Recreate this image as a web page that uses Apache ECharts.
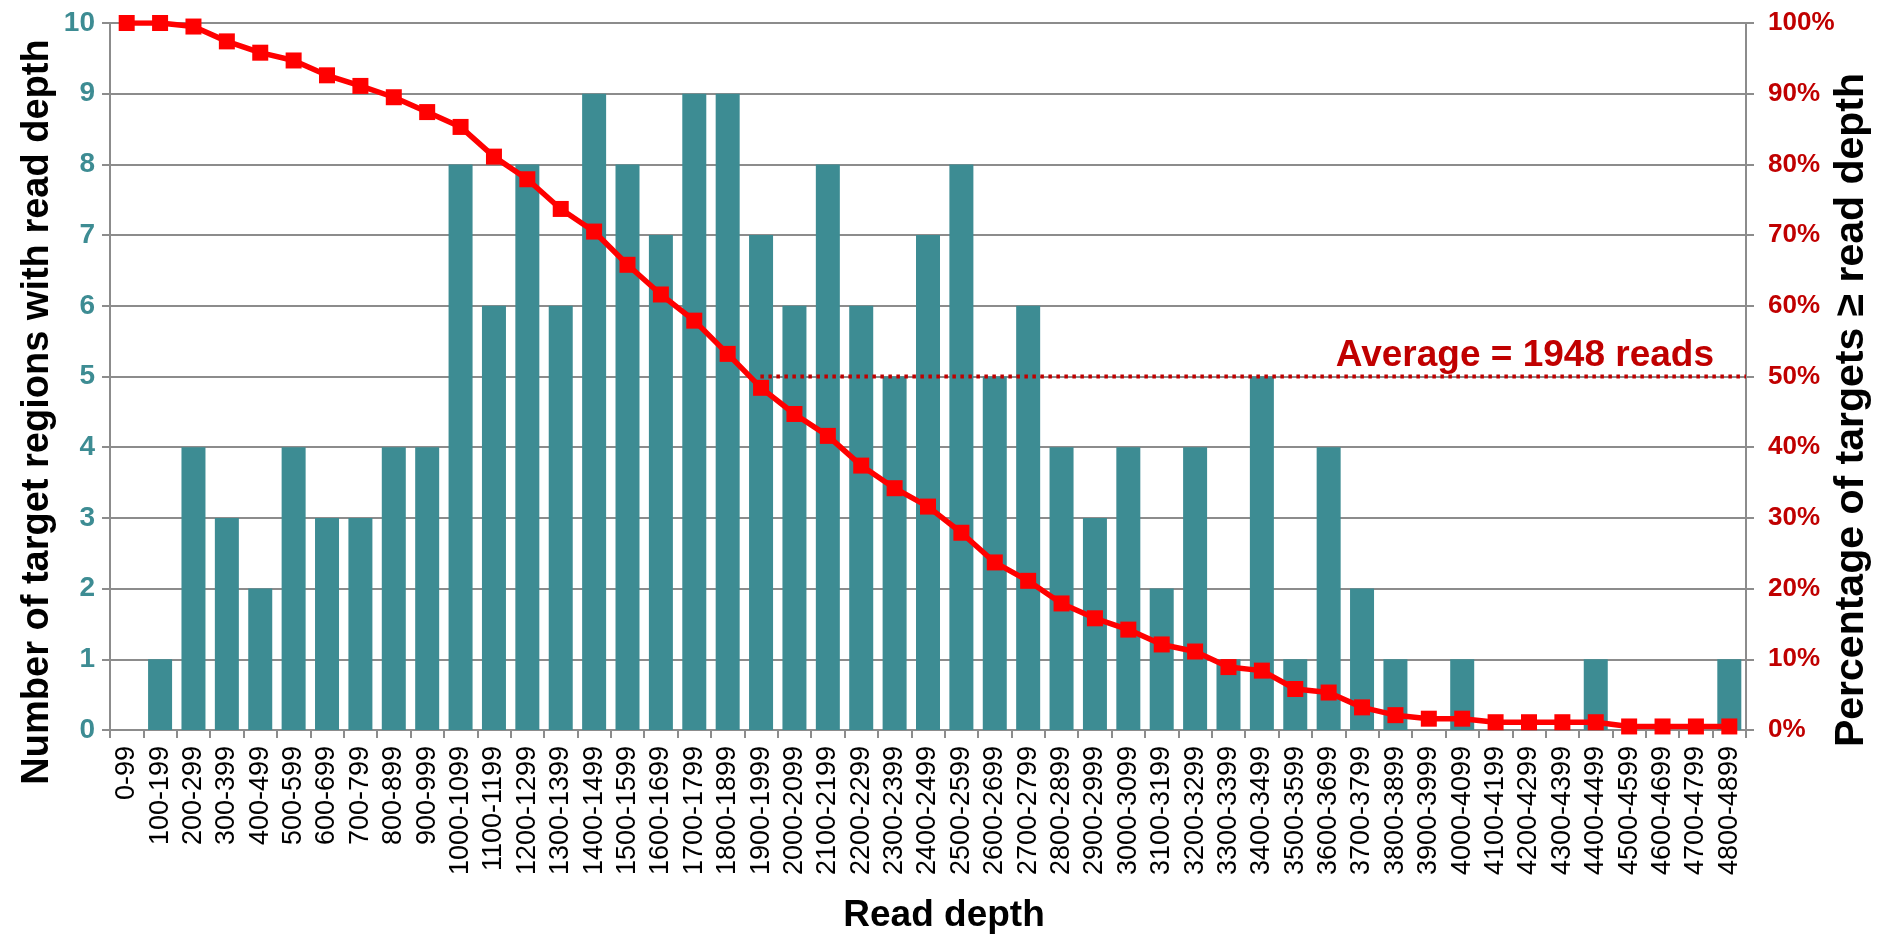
<!DOCTYPE html>
<html>
<head>
<meta charset="utf-8">
<script src="https://cdn.jsdelivr.net/npm/echarts@6/dist/echarts.min.js"></script>
<style>
html,body{margin:0;padding:0;background:#fff;}
#chart{width:1890px;height:937px;}
</style>
</head>
<body>
<div id="chart"></div>
<script>
const categories = ['0-99','100-199','200-299','300-399','400-499','500-599','600-699','700-799','800-899','900-999',
  '1000-1099','1100-1199','1200-1299','1300-1399','1400-1499','1500-1599','1600-1699','1700-1799','1800-1899','1900-1999',
  '2000-2099','2100-2199','2200-2299','2300-2399','2400-2499','2500-2599','2600-2699','2700-2799','2800-2899','2900-2999',
  '3000-3099','3100-3199','3200-3299','3300-3399','3400-3499','3500-3599','3600-3699','3700-3799','3800-3899','3900-3999',
  '4000-4099','4100-4199','4200-4299','4300-4399','4400-4499','4500-4599','4600-4699','4700-4799','4800-4899'];
const regionCounts = [0,1,4,3,2,4,3,3,4,4,
  8,6,8,6,9,8,7,9,9,7,
  6,8,6,5,7,8,5,6,4,3,
  4,2,4,1,5,1,4,2,1,0,
  1,0,0,0,1,0,0,0,1];
const pctAtLeast = [100,100,99.5,97.4,95.8,94.7,92.6,91.1,89.5,87.4,
  85.3,81.1,77.9,73.7,70.5,65.8,61.6,57.9,53.2,48.4,
  44.7,41.6,37.4,34.2,31.6,27.9,23.7,21.1,17.9,15.8,
  14.2,12.1,11.1,8.9,8.4,5.8,5.3,3.2,2.1,1.6,
  1.6,1.1,1.1,1.1,1.1,0.5,0.5,0.5,0.5];
const leftTicks = [0,10,1];     // min, max, interval
const rightTicks = [0,100,10];
const averageReads = 1948;
const averagePct = 50;
const depthRange = [0,4900];
const averageLabel = 'Average = 1948 reads';
const xTitle = 'Read depth';
const leftTitle = 'Number of target regions with read depth';
const rightTitle = 'Percentage of targets \u2265 read depth';

const gridColor = '#8c8c8c';
const FONT = 'Liberation Sans, Arial, sans-serif';
const chart = echarts.init(document.getElementById('chart'));
chart.setOption({
  animation: false,
  textStyle: {fontFamily: FONT},
  grid: {left: 110, right: 144, top: 23, bottom: 207, containLabel: false, outerBoundsMode: 'none'},
  graphic: [
    {type: 'text', x: 944, y: 916, style: {text: xTitle, font: 'bold 37px ' + FONT, fill: '#000', align: 'center', verticalAlign: 'middle'}},
    {type: 'text', x: 38, y: 412, rotation: Math.PI / 2, style: {text: leftTitle, font: 'bold 38px ' + FONT, fill: '#000', align: 'center', verticalAlign: 'middle'}},
    {type: 'text', x: 1852, y: 410, rotation: Math.PI / 2, style: {text: rightTitle, font: 'bold 41px ' + FONT, fill: '#000', align: 'center', verticalAlign: 'middle'}}
  ],
  xAxis: [{
    type: 'category',
    data: categories,
    boundaryGap: true,
    axisLine: {lineStyle: {color: gridColor, width: 2}},
    axisTick: {show: true, alignWithLabel: false, length: 8, interval: 0, lineStyle: {color: gridColor, width: 2}},
    axisLabel: {interval: 0, rotate: 90, fontSize: 27, color: '#000', margin: 16}
  }, {
    type: 'value',
    min: depthRange[0], max: depthRange[1],
    show: false
  }],
  yAxis: [{
    type: 'value',
    min: leftTicks[0], max: leftTicks[1], interval: leftTicks[2],
    axisLine: {show: true, lineStyle: {color: gridColor, width: 2}},
    axisTick: {show: true, length: 8, lineStyle: {color: gridColor, width: 2}},
    axisLabel: {fontSize: 28, fontWeight: 'bold', color: '#3d8c93', margin: 15},
    splitLine: {show: true, lineStyle: {color: gridColor, width: 2}}
  }, {
    type: 'value',
    position: 'right',
    min: rightTicks[0], max: rightTicks[1], interval: rightTicks[2],
    axisLine: {show: true, lineStyle: {color: gridColor, width: 2}},
    axisTick: {show: true, length: 8, lineStyle: {color: gridColor, width: 2}},
    axisLabel: {fontSize: 26, fontWeight: 'bold', color: '#c00000', margin: 22, formatter: '{value}%'},
    splitLine: {show: false}
  }],
  series: [{
    type: 'bar',
    data: regionCounts,
    xAxisIndex: 0, yAxisIndex: 0,
    barWidth: 24,
    itemStyle: {color: '#3d8c93'},
    z: 2
  }, {
    type: 'line',
    data: [[averageReads, averagePct], [depthRange[1], averagePct]],
    xAxisIndex: 1, yAxisIndex: 1,
    symbol: 'none',
    lineStyle: {color: '#c00000', width: 4, type: [3.5, 4.5]},
    label: {show: false},
    endLabel: {
      show: true,
      formatter: averageLabel,
      color: '#c00000', fontSize: 37, fontWeight: 'bold',
      align: 'right', verticalAlign: 'bottom',
      offset: [-32, -2], distance: 0
    },
    z: 3
  }, {
    type: 'line',
    data: pctAtLeast,
    xAxisIndex: 0, yAxisIndex: 1,
    symbol: 'rect',
    symbolSize: 16,
    itemStyle: {color: '#ff0000'},
    lineStyle: {color: '#ff0000', width: 5.5},
    z: 4
  }]
});
</script>
</body>
</html>
